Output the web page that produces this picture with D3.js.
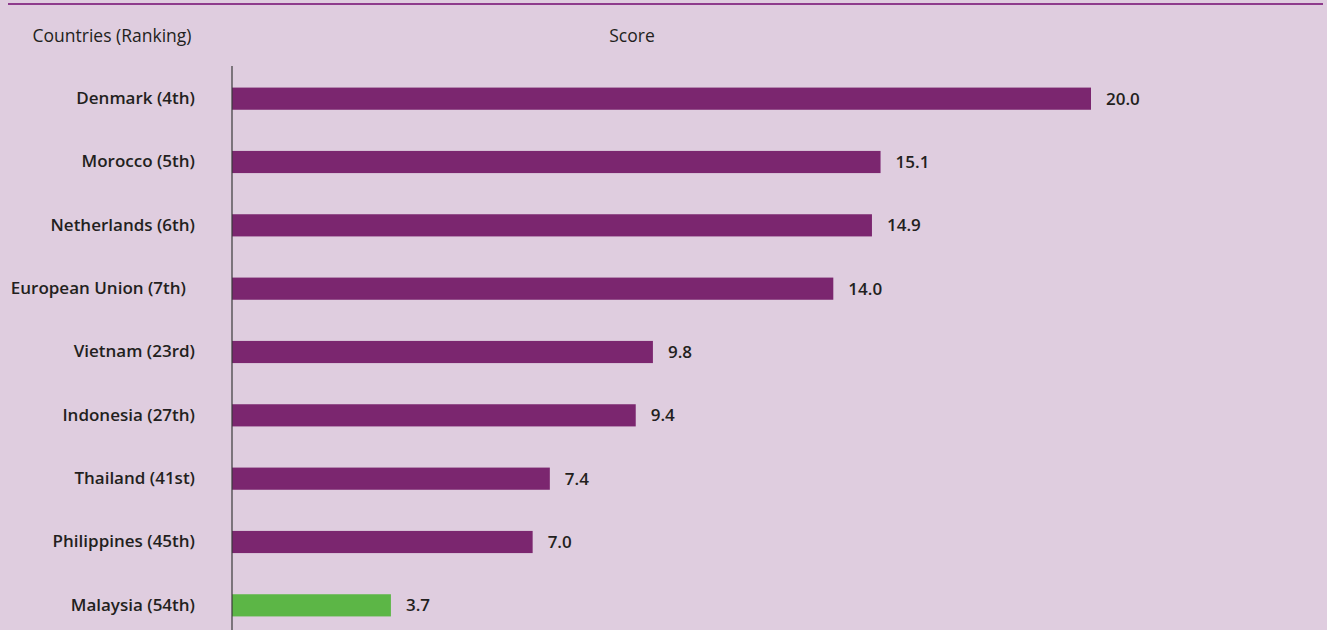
<!DOCTYPE html>
<html>
<head>
<meta charset="utf-8">
<script src="https://cdn.jsdelivr.net/npm/d3@7"></script>
<style>
  html, body { margin: 0; padding: 0; background: #dfcddf; }
  svg { display: block; font-family: "Open Sans", sans-serif; }
</style>
</head>
<body>
<svg id="chart" width="1327" height="630"></svg>
<script>
// data
const countries = ["Denmark (4th)", "Morocco (5th)", "Netherlands (6th)", "European Union (7th)",
  "Vietnam (23rd)", "Indonesia (27th)", "Thailand (41st)", "Philippines (45th)", "Malaysia (54th)"]
const scores = [20.0, 15.1, 14.9, 14.0, 9.8, 9.4, 7.4, 7.0, 3.7]
const highlight = "Malaysia (54th)"

const width = 1327, height = 630
const fontFam = "\"Open Sans\", sans-serif"
const svg = d3.select("#chart")

const rows = countries.map((c, i) => ({country: c, score: scores[i]}))

const x = d3.scaleLinear().domain([0, 20]).range([232, 1091])
const y = d3.scaleBand().domain(countries).range([67, 637]).paddingInner(0.65).paddingOuter(0.325)

svg.append("rect").attr("width", width).attr("height", height).attr("fill", "#dfcddf")

// top rule
svg.append("line")
  .attr("x1", 8).attr("x2", 1323).attr("y1", 4).attr("y2", 4)
  .attr("stroke", "#8e3b8c").attr("stroke-width", 2)

// headers
svg.append("text").attr("x", 112).attr("y", 42).attr("text-anchor", "middle")
  .attr("font-size", 17.5).attr("fill", "#231f20").text("Countries (Ranking)")
svg.append("text").attr("x", 632).attr("y", 42).attr("text-anchor", "middle")
  .attr("font-size", 17.5).attr("fill", "#231f20").text("Score")

// bars
svg.append("g").selectAll("rect")
  .data(rows)
  .join("rect")
  .attr("x", x(0))
  .attr("y", d => y(d.country))
  .attr("width", d => x(d.score) - x(0))
  .attr("height", y.bandwidth())
  .attr("fill", d => d.country == highlight ? "#5cb646" : "#7b266f")

// y axis line + category labels
const yAxis = d3.axisLeft(y).tickSize(0).tickPadding(37)
const gy = svg.append("g").attr("transform", `translate(${x(0)},0)`).call(yAxis)
gy.select(".domain").attr("d", `M0,66V${height}`).attr("stroke", "#3a3a3a").attr("stroke-width", 1.2)
gy.selectAll("text")
  .attr("font-size", 17).attr("font-weight", 600).attr("fill", "#231f20")
  .attr("font-family", fontFam)
  .attr("dx", d => d == "European Union (7th)" ? -9 : 0)

// value labels
svg.append("g").selectAll("text")
  .data(rows)
  .join("text")
  .attr("x", d => x(d.score) + 15)
  .attr("y", d => y(d.country) + y.bandwidth() / 2 + 6)
  .attr("font-size", 17).attr("font-weight", 600).attr("fill", "#231f20")
  .text(d => d.score.toFixed(1))
</script>
</body>
</html>
